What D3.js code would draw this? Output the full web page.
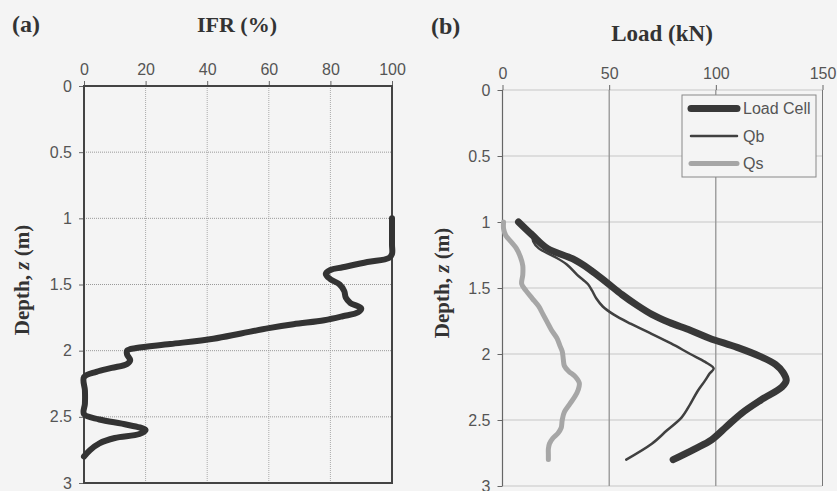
<!DOCTYPE html>
<html><head><meta charset="utf-8">
<script src="https://cdn.jsdelivr.net/npm/d3@7"></script>
<style>body{margin:0;background:#f4f4f4;}svg{display:block;}</style>
</head><body>
<svg id="c" width="837" height="491"></svg>
<script>
// ---- data ----
const depthTicks = [0, 0.5, 1, 1.5, 2, 2.5, 3];
const ifrTicks = [0, 20, 40, 60, 80, 100];
const loadTicks = [0, 50, 100, 150];

const ifrDepth = [1.0,1.1,1.2,1.27,1.3,1.33,1.37,1.39,1.42,1.46,1.5,1.55,1.6,1.64,1.68,1.71,1.74,1.77,1.8,1.83,1.87,1.91,1.95,1.98,2.0,2.03,2.07,2.1,2.13,2.16,2.2,2.3,2.4,2.48,2.52,2.56,2.6,2.63,2.66,2.7,2.75,2.8];
const ifrValue = [100,100,100,100,99,92,84,80,78.5,80,83,84.5,85,86.5,90,89,84,78,68,60,51,42,28,17,14,14,15,14,9,4,0,0.3,0.3,0,5,14,20,18,10,5,2,0];

const loadCellDepth = [1.0,1.1,1.2,1.28,1.36,1.46,1.55,1.63,1.7,1.76,1.82,1.88,1.95,2.02,2.08,2.14,2.2,2.25,2.35,2.45,2.55,2.65,2.72,2.8];
const loadCellValue = [7.5,14,21,33,41,49,56,63,70,78,88,97,110,121,128,131.5,133,131,121,112,105,98,90,80];

const qbDepth = [1.08,1.15,1.2,1.26,1.32,1.4,1.47,1.52,1.58,1.64,1.7,1.77,1.84,1.92,2.0,2.06,2.11,2.15,2.2,2.28,2.38,2.48,2.58,2.68,2.8];
const qbValue = [14,14.5,17,24,30,35,40,42,44,47,52,60,69,79,88,95,99,97,95,91.5,88,84,77,70,58];

const qsDepth = [1.0,1.05,1.1,1.15,1.2,1.27,1.33,1.4,1.47,1.52,1.58,1.64,1.7,1.76,1.82,1.88,1.94,1.98,2.04,2.09,2.13,2.17,2.22,2.27,2.32,2.38,2.44,2.5,2.56,2.6,2.64,2.68,2.72,2.76,2.8];
const qsValue = [0.5,0.5,1.5,4,6.5,8.5,9.5,9.5,9,11,14,17,19,21,23,25.5,27,28,28.5,29,31,34,36,35.5,34,31.5,29,28,27.5,26,23.5,22,21.5,21.5,21.5];

const seriesNames = ["Load Cell", "Qb", "Qs"];

// ---- drawing ----
const svg = d3.select("#c");
const tickFont = "'Liberation Sans', Arial, sans-serif";
const serif = "'Liberation Serif', 'Times New Roman', serif";
const tickColor = "#555";

function panel(opts) {
  const g = svg.append("g");
  const x = d3.scaleLinear().domain(opts.xDomain).range([opts.left, opts.right]);
  const y = d3.scaleLinear().domain([0, 3]).range([opts.top, opts.bottom]);
  // grid
  g.selectAll(".vg").data(opts.xTicks).join("line")
    .attr("x1", d => x(d)).attr("x2", d => x(d))
    .attr("y1", opts.top).attr("y2", opts.bottom)
    .attr("stroke", opts.vGridColor).attr("stroke-width", 1)
    .attr("stroke-dasharray", opts.vGridDash);
  g.selectAll(".hg").data(depthTicks).join("line")
    .attr("x1", opts.left).attr("x2", opts.right)
    .attr("y1", d => y(d)).attr("y2", d => y(d))
    .attr("stroke", "#999").attr("stroke-width", 1)
    .attr("stroke-dasharray", "1,1");
  // axes
  const xa = g.append("g").attr("transform", `translate(0,${opts.top})`)
    .call(d3.axisTop(x).tickValues(opts.xTicks).tickSize(5).tickPadding(6).tickFormat(d3.format("d")));
  const ya = g.append("g").attr("transform", `translate(${opts.left},0)`)
    .call(d3.axisLeft(y).tickValues(depthTicks).tickSize(5).tickPadding(7).tickFormat(d => String(d)));
  [xa, ya].forEach(a => {
    a.select(".domain").remove();
    a.selectAll("line").attr("stroke", "#666");
    a.selectAll("text").attr("fill", tickColor).style("font-family", tickFont).style("font-size", "16px");
  });
  return {g, x, y};
}

// Panel (a)
const A = panel({left: 84, right: 392, top: 86, bottom: 483, xDomain: [0, 100], xTicks: ifrTicks,
  vGridColor: "#aaa", vGridDash: "1,1"});
A.g.append("rect").attr("x", 84).attr("y", 86).attr("width", 308).attr("height", 397)
  .attr("fill", "none").attr("stroke", "#444").attr("stroke-width", 2);
const lineA = d3.line().x(i => A.x(ifrValue[i])).y(i => A.y(ifrDepth[i])).curve(d3.curveCatmullRom.alpha(0.5));
A.g.append("path").attr("d", lineA(d3.range(ifrDepth.length)))
  .attr("fill", "none").attr("stroke", "#333").attr("stroke-width", 6)
  .attr("stroke-linejoin", "round").attr("stroke-linecap", "round");

// Panel (b)
const B = panel({left: 502.5, right: 822.5, top: 90, bottom: 486, xDomain: [0, 150], xTicks: loadTicks,
  vGridColor: "#777", vGridDash: null});
B.g.append("line").attr("x1", 502.5).attr("x2", 502.5).attr("y1", 90).attr("y2", 486).attr("stroke", "#666").attr("stroke-width", 1.2);

const mk = (dep, val) => d3.line().x(i => B.x(val[i])).y(i => B.y(dep[i])).curve(d3.curveCatmullRom.alpha(0.5))(d3.range(dep.length));
const styles = [
  {dep: loadCellDepth, val: loadCellValue, color: "#383838", w: 7},
  {dep: qbDepth, val: qbValue, color: "#404040", w: 2.5},
  {dep: qsDepth, val: qsValue, color: "#a6a6a6", w: 5}
];
[styles[2], styles[1], styles[0]].forEach(s => {
  B.g.append("path").attr("d", mk(s.dep, s.val)).attr("fill", "none")
    .attr("stroke", s.color).attr("stroke-width", s.w)
    .attr("stroke-linejoin", "round").attr("stroke-linecap", "round");
});

// legend
const lg = B.g.append("g");
lg.append("rect").attr("x", 682).attr("y", 95).attr("width", 134).attr("height", 82)
  .attr("fill", "#f4f4f4").attr("stroke", "#888").attr("stroke-width", 1);
seriesNames.forEach((n, i) => {
  const yy = 108.5 + i * 27.5;
  lg.append("line").attr("x1", 691).attr("x2", 737).attr("y1", yy).attr("y2", yy)
    .attr("stroke", styles[i].color).attr("stroke-width", styles[i].w)
    .attr("stroke-linecap", "round");
  lg.append("text").attr("x", 743).attr("y", yy + 5.5).text(n)
    .attr("fill", tickColor).style("font-family", tickFont).style("font-size", "16px");
});

// titles
const T = (x, y, txt, size, anchor) => svg.append("text").attr("x", x).attr("y", y).text(txt)
  .attr("text-anchor", anchor || "start").attr("fill", "#333")
  .style("font-family", serif).style("font-weight", "bold").style("font-size", size + "px");
T(12, 32, "(a)", 24);
T(237, 32, "IFR (%)", 22, "middle");
T(431, 34, "(b)", 24);
T(662, 41, "Load (kN)", 23, "middle");

function yTitle(cx, cy) {
  const t = svg.append("text").attr("transform", `translate(${cx},${cy}) rotate(-90)`)
    .attr("text-anchor", "middle").attr("fill", "#333")
    .style("font-family", serif).style("font-weight", "bold").style("font-size", "21px");
  t.append("tspan").text("Depth, ");
  t.append("tspan").text("z").style("font-style", "italic");
  t.append("tspan").text(" (m)");
}
yTitle(29, 280);
yTitle(449, 283);
</script>
</body></html>
